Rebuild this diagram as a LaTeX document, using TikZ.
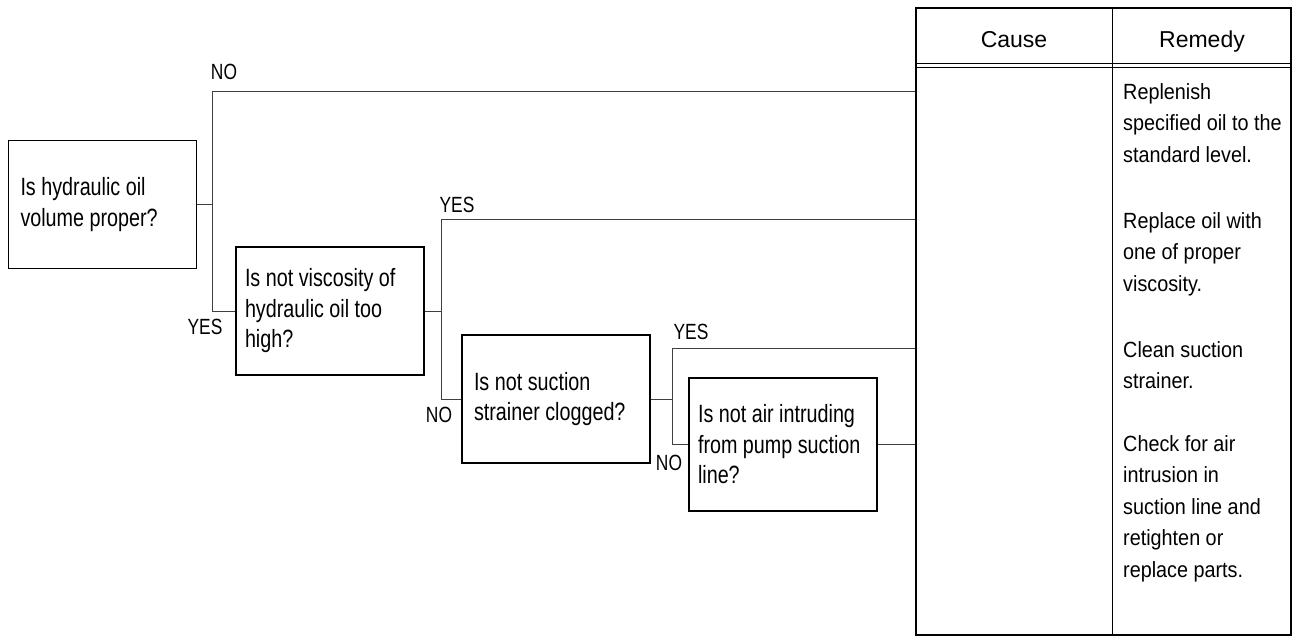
\documentclass[tikz,border=0pt]{standalone}
\usepackage{fontspec}
\setmainfont{Liberation Sans}
\newfontfamily\askfont{Liberation Sans}[FakeStretch=0.79]
\newfontfamily\fixfont{Liberation Sans}[FakeStretch=0.9]
\begin{document}
\begin{tikzpicture}[x=1pt, y=-1pt,
	plainspace/.style={execute at begin node={\spaceskip=0pt\xspaceskip=0pt}},
	question/.style={rectangle, draw, line width=1.3pt, minimum width=188pt, minimum height=128pt, text width=172pt, inner xsep=8pt, align=left, plainspace, font=\askfont\fontsize{25}{30.5}\selectfont},
	answer/.style={inner sep=0pt, font=\askfont\fontsize{22}{26}\selectfont},
	link/.style={line width=1pt, draw=black!75},
	remedy/.style={anchor=north west, inner sep=0pt, text width=172pt, align=left, plainspace, font=\fixfont\fontsize{22}{31.5}\selectfont},
	head/.style={anchor=base, font=\fontsize{23}{28}\selectfont}]
			\useasboundingbox (0,0) rectangle (1297,637);

			% Nodes
			\node[question] (volume) at (102.5,204.5) {\hspace*{4pt}Is hydraulic oil\\\hspace*{4pt}volume proper?};
			\node[question] (viscosity) at (330,311) {\hspace*{1pt}Is not viscosity of\\\hspace*{1pt}hydraulic oil too\\\hspace*{1pt}high?};
			\node[question] (strainer) at (556,399) {\hspace*{4pt}Is not suction\\\hspace*{4pt}strainer clogged?};
			\node[question, minimum height=133pt] (air) at (783,444.5) {\hspace*{1pt}Is not air intruding\\\hspace*{1pt}from pump suction\\\hspace*{1pt}line?};

			% Table
			\node[draw, line width=1.8pt, minimum width=375pt, minimum height=627pt, inner sep=0pt] (table) at (1103.5,321.5) {};
			\draw[line width=1pt] (1112,8) -- (1112,635);
			\draw[line width=0.9pt] (916,63) -- (1291,63) (916,67) -- (1291,67);
			\node[head] (cause) at (1014,47) {Cause};
			\node[head] (fix) at (1202,47) {Remedy};

			% Links
			\draw[link] (volume.east) -- ++(15,0) coordinate (fork1);
			\draw[link] (fork1) |- (table.west |- 0,91);
			\draw[link] (fork1) |- (viscosity.west);
			\draw[link] (viscosity.east) -- ++(17,0) coordinate (fork2);
			\draw[link] (fork2) |- (table.west |- 0,219);
			\draw[link] (fork2) |- (strainer.west);
			\draw[link] (strainer.east) -- ++(22,0) coordinate (fork3);
			\draw[link] (fork3) |- (table.west |- 0,348);
			\draw[link] (fork3) |- (air.west);
			\draw[link] (air.east) -- (table.west |- air.east);

			% Answers
			\node[answer] (no1) at (224,72) {NO};
			\node[answer] (yes1) at (205,327) {YES};
			\node[answer] (yes2) at (457,205) {YES};
			\node[answer] (no2) at (439,415) {NO};
			\node[answer] (yes3) at (691,332) {YES};
			\node[answer] (no3) at (669,463) {NO};

			% Remedies
			\node[remedy] (refill) at (1123,83) {Replenish\\specified oil to the\\standard level.};
			\node[remedy] (swap) at (1123,212) {Replace oil with\\one of proper\\viscosity.};
			\node[remedy] (clean) at (1123,341) {Clean suction\\strainer.};
			\node[remedy] (seal) at (1123,435) {Check for air\\intrusion in\\suction line and\\retighten or\\replace parts.};
		\end{tikzpicture}
\end{document}
